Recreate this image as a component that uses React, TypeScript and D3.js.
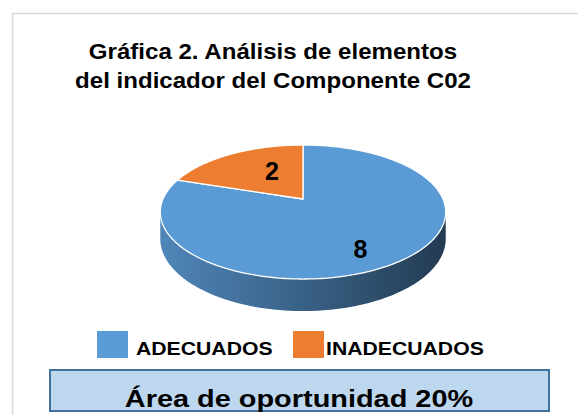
import React from 'react';
import * as d3 from 'd3';

const categories = ['ADECUADOS', 'INADECUADOS'];
const values = [8, 2];
const colors = ['#5B9BD5', '#ED7D31'];
const titleLines = ['Gráfica 2. Análisis de elementos', 'del indicador del Componente C02'];
const footerText = 'Área de oportunidad 20%';

const W = 578;
const H = 415;
const FONT = '"Liberation Sans", Arial, Helvetica, sans-serif';

// tilted disc, simple perspective: far side smaller than near side
const cx = 303;
const cy = 199;
const rx = 140;
const ry = 64.5;
const persp = 0.194;
const depth = 25.8;

const project = (a: number, r: number, drop = 0): [number, number] => {
  const u = Math.sin(a) * r;
  const v = -Math.cos(a) * r;
  const w = 1 - persp * v;
  return [cx + (rx * u) / w, cy + (ry * v) / w + drop / w];
};

const arcPoints = (a0: number, a1: number, drop = 0) => {
  const n = Math.max(2, Math.ceil((Math.abs(a1 - a0) * 180) / Math.PI));
  return d3.range(n + 1).map((i) => project(a0 + ((a1 - a0) * i) / n, 1, drop));
};

// label nudges (Excel puts 3D labels a bit off the plain centroid)
const labelNudge: Record<string, [number, number]> = {
  ADECUADOS: [3, 15],
  INADECUADOS: [14, 1],
};

const App: React.FC = () => {
  const pie = d3.pie<number>().sort(null).value((d) => d);
  const slices = pie(values);
  const line = d3.line();

  // visible front band of the side wall
  const vis0 = Math.PI / 2 + Math.asin(persp);
  const vis1 = (3 * Math.PI) / 2 - Math.asin(persp);

  const left = cx - rx * 1.02;
  const right = cx + rx * 1.02;

  return (
    <svg width={W} height={H} style={{ position: 'absolute', left: 0, top: 0, background: '#fff' }}>
      <defs>
        {colors.map((c, i) => {
          const base = d3.color(c)!;
          return (
            <linearGradient key={i} id={`side${i}`} gradientUnits="userSpaceOnUse" x1={left} x2={right} y1={0} y2={0}>
              <stop offset="0%" stopColor={base.darker(0.4).formatHex()} />
              <stop offset="50%" stopColor={base.darker(1.3).formatHex()} />
              <stop offset="100%" stopColor={base.darker(2.7).formatHex()} />
            </linearGradient>
          );
        })}
      </defs>

      {/* chart area border */}
      <rect x={12.5} y={13.5} width={W} height={H} fill="#fff" stroke="#D9D9D9" strokeWidth={1.5} />

      {titleLines.map((t, i) => (
        <g key={t} transform={`translate(273,${59 + i * 29}) scale(1.12,1)`}>
          <text textAnchor="middle" fontFamily={FONT} fontWeight="bold" fontSize={21.5} fill="#000">
            {t}
          </text>
        </g>
      ))}

      {/* side wall */}
      {slices.map((s, i) => {
        const a0 = Math.max(s.startAngle, vis0);
        const a1 = Math.min(s.endAngle, vis1);
        if (a1 <= a0) return null;
        const pts = [...arcPoints(a0, a1), ...arcPoints(a1, a0, depth)];
        return <path key={`side${i}`} d={line(pts as [number, number][])! + 'Z'} fill={`url(#side${i})`} />;
      })}

      {/* top face */}
      {slices.map((s, i) => {
        const pts = [project(0, 0), ...arcPoints(s.startAngle, s.endAngle)];
        return (
          <path
            key={`top${i}`}
            d={line(pts as [number, number][])! + 'Z'}
            fill={colors[i]}
            stroke="#fff"
            strokeWidth={1.3}
            strokeLinejoin="round"
          />
        );
      })}

      {slices.map((s, i) => {
        const mid = (s.startAngle + s.endAngle) / 2;
        const [x, y] = project(mid, 0.6);
        const [dx, dy] = labelNudge[categories[i]] || [0, 0];
        return (
          <text
            key={`lab${i}`}
            x={x + dx}
            y={y + dy + 9}
            textAnchor="middle"
            fontFamily={FONT}
            fontWeight="bold"
            fontSize={25}
            fill="#000"
          >
            {values[i]}
          </text>
        );
      })}

      {/* legend */}
      {categories.map((c, i) => {
        const x0 = i === 0 ? 97 : 293;
        return (
          <g key={c}>
            <rect x={x0} y={331} width={31} height={27} fill={colors[i]} />
            <g transform={`translate(${x0 + (i === 0 ? 39 : 33)},355) scale(1.14,1)`}>
              <text fontFamily={FONT} fontWeight="bold" fontSize={18.6} fill="#000">
                {c}
              </text>
            </g>
          </g>
        );
      })}

      {/* footer box */}
      <rect x={50} y={370} width={499} height={41} fill="#BDD7EE" stroke="#41719C" strokeWidth={2} />
      <g transform="translate(299,406.5) scale(1.17,1)">
        <text textAnchor="middle" fontFamily={FONT} fontWeight="bold" fontSize={24.7} fill="#000">
          {footerText}
        </text>
      </g>
    </svg>
  );
};

export default App;
